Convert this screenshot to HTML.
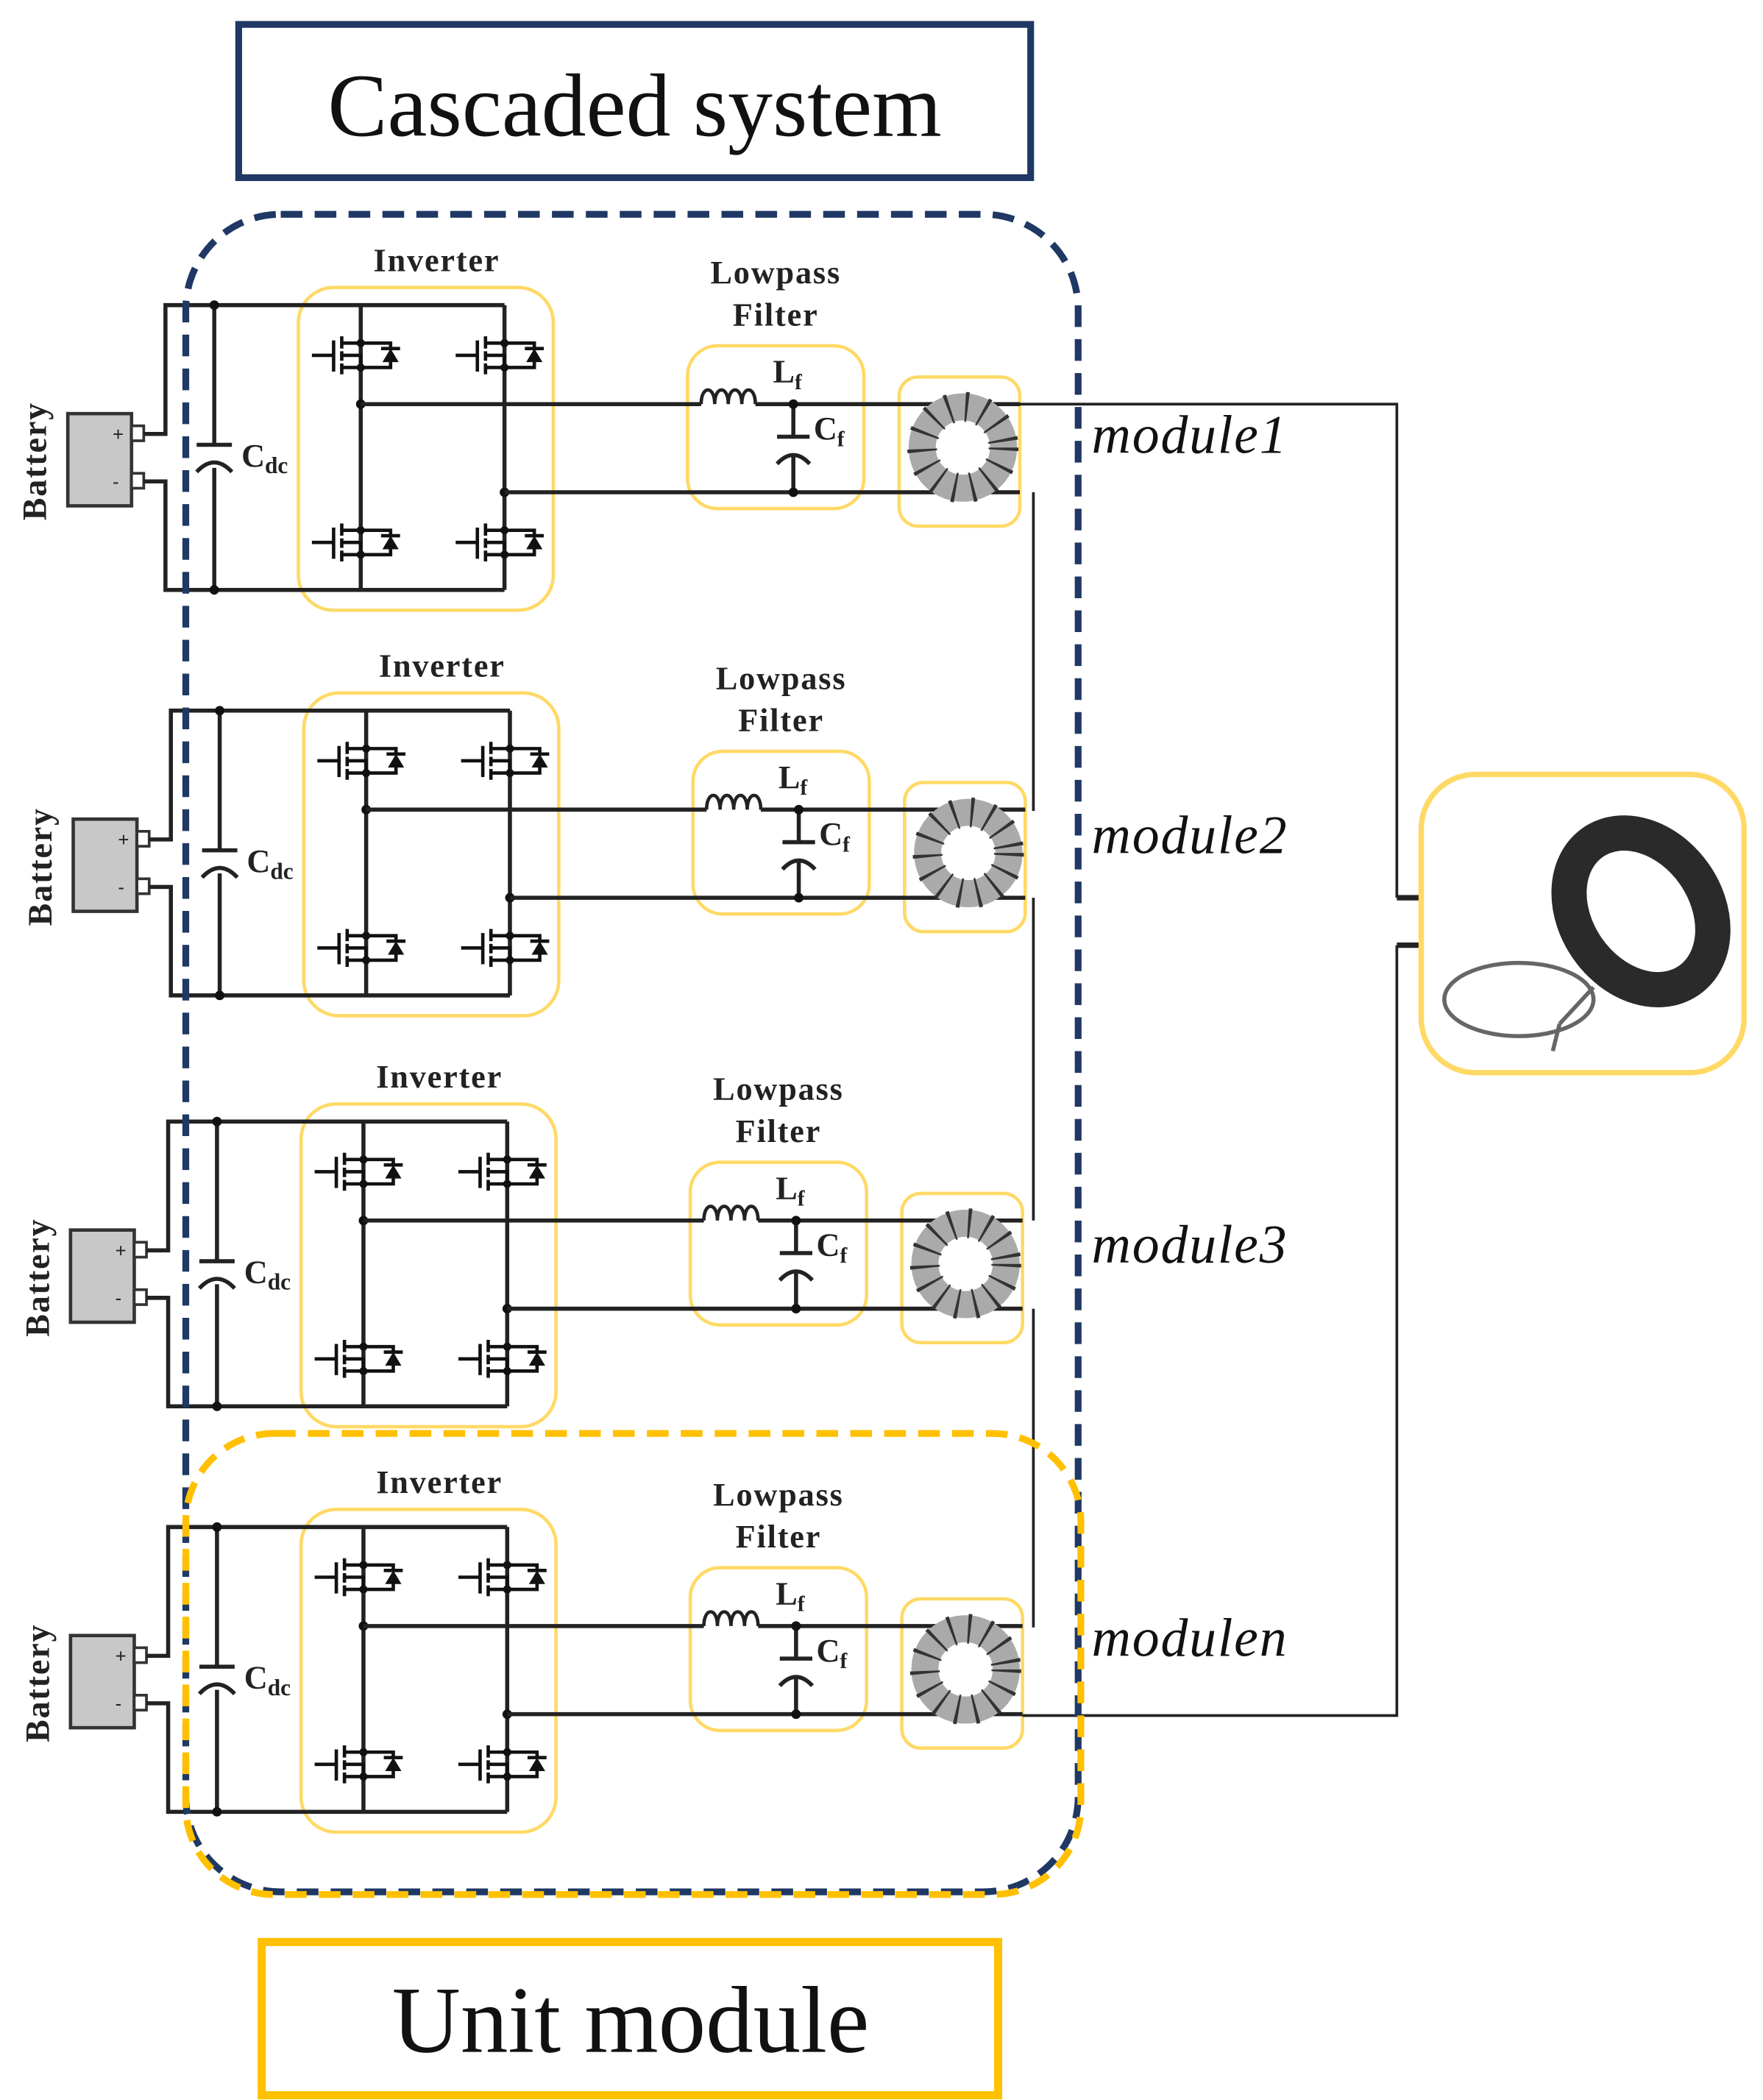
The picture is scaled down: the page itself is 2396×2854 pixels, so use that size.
<!DOCTYPE html>
<html><head><meta charset="utf-8"><style>html,body{margin:0;padding:0;background:#fff}svg{display:block}</style></head>
<body>
<svg width="2396" height="2854" viewBox="0 0 1300 1548.5" xmlns="http://www.w3.org/2000/svg">
<defs>
<g id="sw">
  <line x1="-36" y1="0" x2="-21" y2="0" stroke="#111" stroke-width="2.5"/>
  <line x1="-20" y1="-11" x2="-20" y2="12" stroke="#111" stroke-width="2.5"/>
  <line x1="-14" y1="-14" x2="-14" y2="-5" stroke="#111" stroke-width="2.5"/>
  <line x1="-14" y1="-3" x2="-14" y2="4" stroke="#111" stroke-width="2.5"/>
  <line x1="-14" y1="6" x2="-14" y2="14" stroke="#111" stroke-width="2.5"/>
  <path d="M-14,-9 H22 V-4 M-14,9 H22 V4 M-14,0 H0 V9" fill="none" stroke="#111" stroke-width="2.5"/>
  <polygon points="16,5 28,5 22,-5" fill="#111"/>
  <line x1="15" y1="-5" x2="29" y2="-5" stroke="#111" stroke-width="2.5"/>
  <circle cx="0" cy="-9" r="3" fill="#111"/><circle cx="0" cy="9" r="3" fill="#111"/>
</g>
<g id="mod">
  <rect x="220" y="212" width="188" height="238" rx="26" fill="none" stroke="#ffd966" stroke-width="2.5"/>
  <rect x="507" y="255" width="130" height="120" rx="22" fill="none" stroke="#ffd966" stroke-width="2.5"/>
  <rect x="663" y="278" width="89" height="110" rx="14" fill="none" stroke="#ffd966" stroke-width="2.5"/>
  <text x="322" y="200" font-family="Liberation Serif,serif" font-weight="bold" font-size="24" text-anchor="middle" fill="#222" letter-spacing="1">Inverter</text>
  <text x="572" y="209" font-family="Liberation Serif,serif" font-weight="bold" font-size="24" text-anchor="middle" fill="#222" letter-spacing="1">Lowpass</text>
  <text x="572" y="240" font-family="Liberation Serif,serif" font-weight="bold" font-size="24" text-anchor="middle" fill="#222" letter-spacing="1">Filter</text>
  <rect x="50" y="305" width="47" height="68" fill="#c8c8c8" stroke="#333" stroke-width="2.5"/>
  <rect x="97" y="314" width="9" height="11" fill="#fff" stroke="#333" stroke-width="2"/>
  <rect x="97" y="349" width="9" height="11" fill="#fff" stroke="#333" stroke-width="2"/>
  <text x="83" y="325" font-family="Liberation Sans,sans-serif" font-size="14" fill="#222">+</text>
  <text x="83" y="360" font-family="Liberation Sans,sans-serif" font-size="14" fill="#222">-</text>
  <text transform="translate(34,340) rotate(-90)" font-family="Liberation Serif,serif" font-weight="bold" font-size="25" text-anchor="middle" fill="#222" letter-spacing="1">Battery</text>
  <path d="M106,320 H122 V225 H372 M106,355 H122 V435 H372" fill="none" stroke="#222" stroke-width="3"/>
  <line x1="158" y1="225" x2="158" y2="328" stroke="#222" stroke-width="3"/>
  <line x1="158" y1="345" x2="158" y2="435" stroke="#222" stroke-width="3"/>
  <line x1="145" y1="328" x2="171" y2="328" stroke="#222" stroke-width="3"/>
  <path d="M145,348 Q158,334 171,348" fill="none" stroke="#222" stroke-width="3"/>
  <circle cx="158" cy="225" r="3.5" fill="#111"/><circle cx="158" cy="435" r="3.5" fill="#111"/>
  <text x="178" y="344" font-family="Liberation Serif,serif" font-weight="bold" font-size="24" fill="#222">C<tspan font-size="17" dy="5">dc</tspan></text>
  <line x1="266" y1="225" x2="266" y2="435" stroke="#222" stroke-width="3"/>
  <line x1="372" y1="225" x2="372" y2="435" stroke="#222" stroke-width="3"/>
  <use href="#sw" x="266" y="262"/><use href="#sw" x="372" y="262"/>
  <use href="#sw" x="266" y="400"/><use href="#sw" x="372" y="400"/>
  <circle cx="266" cy="298" r="3.5" fill="#111"/><circle cx="372" cy="363" r="3.5" fill="#111"/>
  <line x1="266" y1="298" x2="517" y2="298" stroke="#222" stroke-width="3"/>
  <path d="M517,298 c0,-14 10,-14 10,0 c0,-14 10,-14 10,0 c0,-14 10,-14 10,0 c0,-14 10,-14 10,0" fill="none" stroke="#222" stroke-width="2.5"/>
  <line x1="557" y1="298" x2="752" y2="298" stroke="#222" stroke-width="3"/>
  <line x1="372" y1="363" x2="752" y2="363" stroke="#222" stroke-width="3"/>
  <line x1="585" y1="298" x2="585" y2="322" stroke="#222" stroke-width="3"/>
  <line x1="573" y1="322" x2="597" y2="322" stroke="#222" stroke-width="3"/>
  <path d="M573,342 Q585,329 597,342" fill="none" stroke="#222" stroke-width="3"/>
  <line x1="585" y1="336" x2="585" y2="363" stroke="#222" stroke-width="3"/>
  <circle cx="585" cy="298" r="3.5" fill="#111"/><circle cx="585" cy="363" r="3.5" fill="#111"/>
  <text x="570" y="282" font-family="Liberation Serif,serif" font-weight="bold" font-size="24" fill="#222">L<tspan font-size="16" dy="5">f</tspan></text>
  <text x="600" y="324" font-family="Liberation Serif,serif" font-weight="bold" font-size="24" fill="#222">C<tspan font-size="16" dy="5">f</tspan></text>
  <circle cx="710" cy="330" r="30" fill="none" stroke="#aaa" stroke-width="20"/>
  <circle cx="710" cy="330" r="30" fill="none" stroke="#333" stroke-width="22" stroke-dasharray="2 11"/>
  <circle cx="710" cy="330" r="19" fill="#fff"/>
</g>
</defs>

<rect x="176" y="18" width="584" height="113" fill="#fff" stroke="#1f3864" stroke-width="5"/>
<text x="468" y="100" font-family="Liberation Serif,serif" font-size="66" text-anchor="middle" fill="#111">Cascaded system</text>

<use href="#mod"/>
<use href="#mod" transform="translate(4,299)"/>
<use href="#mod" transform="translate(2,602)"/>
<use href="#mod" transform="translate(2,901)"/>

<g stroke="#222" stroke-width="2" fill="none">
  <path d="M752,298 H1030 V662"/>
  <path d="M1030,697 V1265 H754"/>
  <path d="M762,363 V598 M762,662 V900 M762,965 V1200"/>
  <path d="M1030,662 H1058 M1030,697 H1058" stroke-width="4"/>
</g>

<g font-family="Liberation Serif,serif" font-style="italic" font-size="40" fill="#111" letter-spacing="1">
  <text x="805" y="334">module1</text>
  <text x="805" y="629">module2</text>
  <text x="805" y="931">module3</text>
  <text x="805" y="1221">module<tspan>n</tspan></text>
</g>

<rect x="1048" y="571" width="238" height="220" rx="40" fill="#fff" stroke="#ffd966" stroke-width="4"/>
<ellipse cx="1210" cy="672" rx="48" ry="62" transform="rotate(-35 1210 672)" fill="none" stroke="#2a2a2a" stroke-width="26"/>
<ellipse cx="1120" cy="737" rx="55" ry="27" fill="none" stroke="#666" stroke-width="3"/>
<path d="M1150,755 L1175,728 M1150,755 L1145,775" stroke="#666" stroke-width="3" fill="none"/>

<rect x="137" y="158" width="658" height="1237" rx="70" fill="none" stroke="#1f3864" stroke-width="5" stroke-dasharray="16 9"/>
<rect x="137" y="1057" width="660" height="340" rx="65" fill="none" stroke="#ffc000" stroke-width="5" stroke-dasharray="16 9"/>

<rect x="193" y="1432" width="543" height="113" fill="#fff" stroke="#ffc000" stroke-width="6"/>
<text x="465" y="1513" font-family="Liberation Serif,serif" font-size="70" text-anchor="middle" fill="#111">Unit module</text>
</svg>
</body></html>
